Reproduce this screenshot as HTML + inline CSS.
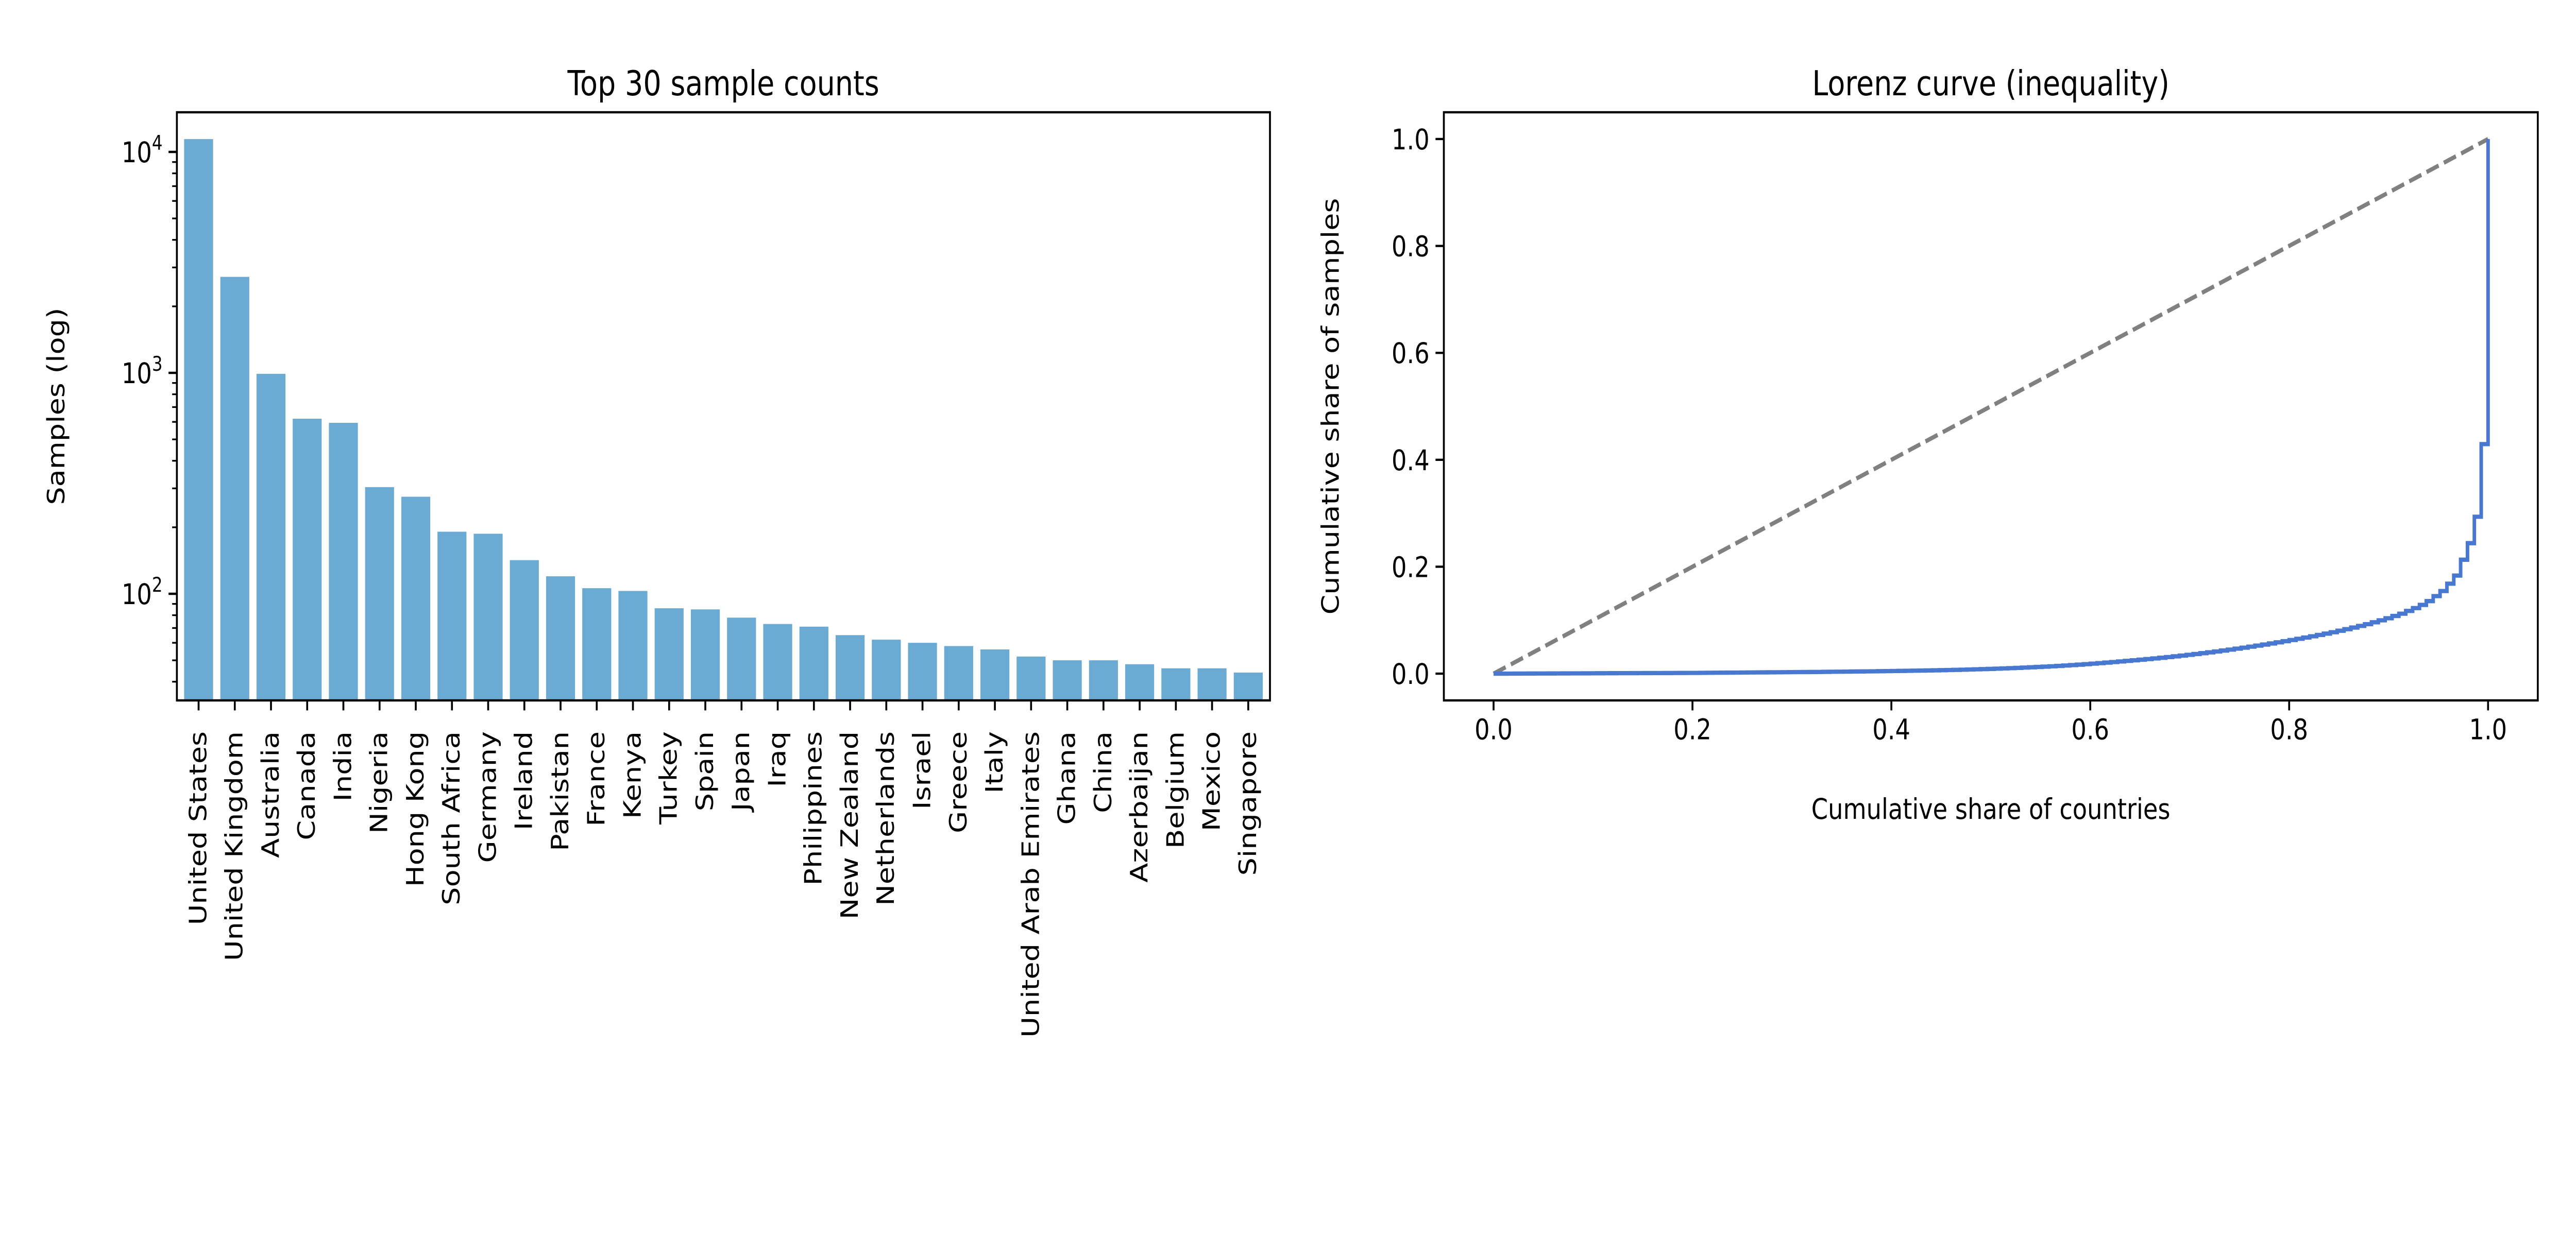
<!DOCTYPE html>
<html><head><meta charset="utf-8"><style>
html,body{margin:0;padding:0;background:#fff;width:100%;height:100%;overflow:hidden;}
svg{display:block;width:100vw;height:100vh;font-family:"DejaVu Sans","Liberation Sans",sans-serif;}
</style></head><body>
<svg id="fig" viewBox="0 0 6000 2400" preserveAspectRatio="none" xmlns="http://www.w3.org/2000/svg">
<rect width="6000" height="2400" fill="#fff"/>
<g id="left"></g>
<g id="right"></g>
</svg>
<script>
const categories = ["United States","United Kingdom","Australia","Canada","India","Nigeria","Hong Kong","South Africa","Germany","Ireland","Pakistan","France","Kenya","Turkey","Spain","Japan","Iraq","Philippines","New Zealand","Netherlands","Israel","Greece","Italy","United Arab Emirates","Ghana","China","Azerbaijan","Belgium","Mexico","Singapore"];
const sampleCounts = [11430,2720,990,620,594,304,275,191,187,142,120,106,103,86,85,78,73,71,65,62,60,58,56,52,50,50,48,46,46,44];
const otherCounts = [43,42,41,40,39,38,37,36,35,34,33,32,31,30,29,28,27,26,25,24,23,23,22,22,21,21,20,20,
19,18,17,16,15,14,13,12,12,11,11,10,10,9,9,8,8,7,7,6,6,6,5,5,5,4,4,4,4,
4,4,3,3,3,3,3,3,3,3,3,2,2,2,2,2,2,2,2,2,2,2,2,2,2,2,2,2,2,
1,1,1,1,1,1,1,1,1,1,1,1,1,1,1,1,1,1,1,1,1,1,1,1,1,1,1,1,1];
const logTickExps = [2,3,4];
const lorenzTicks = [0,0.2,0.4,0.6,0.8,1.0];

const NS="http://www.w3.org/2000/svg";
function mk(parent, tag, attrs, text){
  const e=document.createElementNS(NS,tag);
  for(const k in attrs) e.setAttribute(k,attrs[k]);
  if(text!==undefined) e.textContent=text;
  parent.appendChild(e); return e;
}
const FS=55.6, TL=19.4, TW=4.4;

// ---------- Left: bar chart ----------
const L=document.getElementById('left');
const lx0=412, lx1=2958, ly0=218, ly1=1360;
const yDec=429, y1e2=1153;
function ly(v){ return y1e2 - (Math.log10(v)-2)*yDec; }
const step=(lx1-lx0)/30.2;
function lx(i){ return lx0 + (i+0.6)*step; }
const bw=0.8*step;
sampleCounts.forEach((v,i)=>{
  const r=mk(L,'rect',{x:lx(i)-bw/2,y:ly(v),width:bw,height:ly1-ly(v),fill:'#6baad2'});
  
  
});
const vMin=Math.pow(10,2-(ly1-y1e2)/yDec), vMax=Math.pow(10,2+(y1e2-ly0)/yDec);
for(let e=1;e<=4;e++) for(let m=2;m<=9;m++){
  const v=m*Math.pow(10,e);
  if(v<vMin||v>vMax) continue;
  mk(L,'line',{x1:lx0-11,x2:lx0,y1:ly(v),y2:ly(v),stroke:'#000','stroke-width':3.3});
}
logTickExps.forEach(e=>{
  const y=ly(Math.pow(10,e));
  mk(L,'line',{x1:lx0-TL,x2:lx0,y1:y,y2:y,stroke:'#000','stroke-width':TW});
  const t=mk(L,'text',{x:lx0-TL-14,y:y+20,'text-anchor':'end','font-size':FS});
  
  
  mk(t,'tspan',{},'10');
  mk(t,'tspan',{dy:-24,'font-size':39},String(e));
});
categories.forEach((c,i)=>{
  const x=lx(i);
  mk(L,'line',{x1:x,x2:x,y1:ly1,y2:ly1+TL,stroke:'#000','stroke-width':TW});
  const t=mk(L,'text',{x:0,y:0,'text-anchor':'end','font-size':FS,'dominant-baseline':'central',transform:`translate(${x},1420) rotate(-90)`},c);
  
  
});
mk(L,'rect',{x:lx0,y:ly0,width:lx1-lx0,height:ly1-ly0,fill:'none',stroke:'#000','stroke-width':TW});
const lt=mk(L,'text',{x:(lx0+lx1)/2,y:185,'text-anchor':'middle','font-size':66.7},'Top 30 sample counts');


const lyl=mk(L,'text',{x:0,y:0,'text-anchor':'middle','font-size':FS,transform:`translate(150,${(ly0+ly1)/2}) rotate(-90)`},'Samples (log)');



// ---------- Right: Lorenz ----------
const R=document.getElementById('right');
const rx0=3363, rx1=5911, ry0=218, ry1=1360;
function rx(v){ return rx0 + (v+0.05)/1.1*(rx1-rx0); }
function ry(v){ return ry1 - (v+0.05)/1.1*(ry1-ry0); }
const all=sampleCounts.concat(otherCounts).slice().sort((a,b)=>a-b);
const total=all.reduce((a,b)=>a+b,0), N=all.length;
let cum=0, pts=[[0,0]];
all.forEach((v,i)=>{ cum+=v; pts.push([(i+1)/N, cum/total]); });
const diag=mk(R,'line',{x1:rx(0),y1:ry(0),x2:rx(1),y2:ry(1),stroke:'#808080','stroke-width':8.3,'stroke-dasharray':'30.8 13.3'});


let d=`M${rx(pts[0][0])},${ry(pts[0][1])}`;
for(let i=0;i<pts.length-1;i++){
  d+=` H${rx(pts[i+1][0])} V${ry(pts[i+1][1])}`;
}
const lc=mk(R,'path',{d:d,fill:'none',stroke:'#4878cf','stroke-width':8.3});


lorenzTicks.forEach(v=>{
  mk(R,'line',{x1:rx(v),x2:rx(v),y1:ry1,y2:ry1+TL,stroke:'#000','stroke-width':TW});
  const tx=mk(R,'text',{x:rx(v),y:ry1+TL+14+42,'text-anchor':'middle','font-size':FS},v.toFixed(1));
  
  
  mk(R,'line',{x1:rx0-TL,x2:rx0,y1:ry(v),y2:ry(v),stroke:'#000','stroke-width':TW});
  const ty=mk(R,'text',{x:rx0-TL-14,y:ry(v)+20,'text-anchor':'end','font-size':FS},v.toFixed(1));
  
  
});
mk(R,'rect',{x:rx0,y:ry0,width:rx1-rx0,height:ry1-ry0,fill:'none',stroke:'#000','stroke-width':TW});
const rt=mk(R,'text',{x:(rx0+rx1)/2,y:185,'text-anchor':'middle','font-size':66.7},'Lorenz curve (inequality)');


const rxl=mk(R,'text',{x:(rx0+rx1)/2,y:1590,'text-anchor':'middle','font-size':FS},'Cumulative share of countries');


const ryl=mk(R,'text',{x:0,y:0,'text-anchor':'middle','font-size':FS,transform:`translate(3118,${(ry0+ry1)/2}) rotate(-90)`},'Cumulative share of samples');


</script>
</body></html>
